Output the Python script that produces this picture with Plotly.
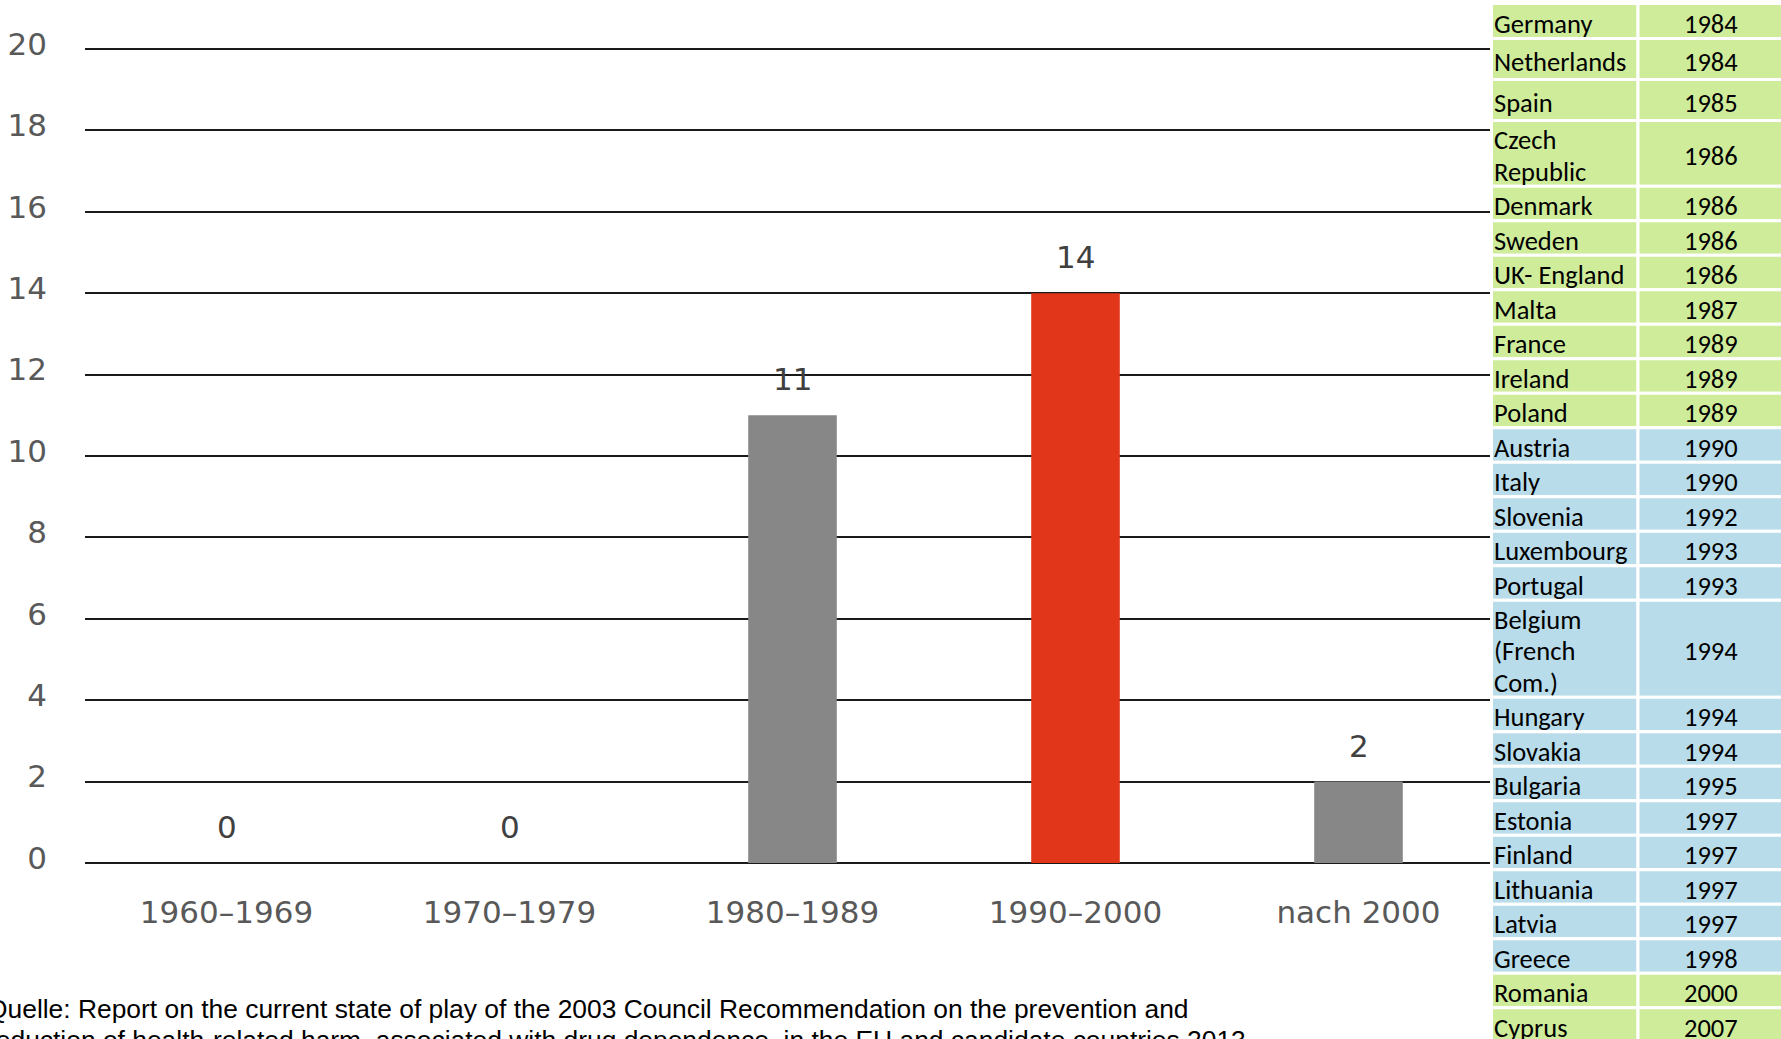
import plotly.graph_objects as go

# Number of countries per decade in which the first measures were introduced
periods = ["1960–1969", "1970–1979", "1980–1989", "1990–2000", "nach 2000"]
counts = [0, 0, 11, 14, 2]
highlight_period = "1990–2000"

# Country list with year of introduction
countries = [
    "Germany", "Netherlands", "Spain", "Czech<br>Republic", "Denmark", "Sweden",
    "UK- England", "Malta", "France", "Ireland", "Poland", "Austria", "Italy",
    "Slovenia", "Luxembourg", "Portugal", "Belgium<br>(French<br>Com.)", "Hungary",
    "Slovakia", "Bulgaria", "Estonia", "Finland", "Lithuania", "Latvia", "Greece",
    "Romania", "Cyprus",
]
years = [
    1984, 1984, 1985, 1986, 1986, 1986, 1986, 1987, 1989, 1989, 1989, 1990, 1990,
    1992, 1993, 1993, 1994, 1994, 1994, 1995, 1997, 1997, 1997, 1997, 1998,
    2000, 2007,
]
y_ticks = [0, 2, 4, 6, 8, 10, 12, 14, 16, 18, 20]

source_lines = [
    "Quelle: Report on the current state of play of the 2003 Council Recommendation on the prevention and",
    "reduction of health-related harm, associated with drug dependence, in the EU and candidate countries 2013",
]

# ---- styling ----
W, H = 1781, 1039
GREY_BAR = "#878787"
RED_BAR = "#E2361A"
GREEN_CELL = "#CFEC9B"
BLUE_CELL = "#B8DCEA"
AXIS_FONT = "DejaVu Sans, sans-serif"
TABLE_FONT = "Carlito, Lato, sans-serif"
TABLE_SIZE = 26.5

# vertical placement of the value axis (pixels from the top)
Y0_PX, Y20_PX, PLOT_TOP_PX = 863.0, 49.0, 45.0
px_per_unit = (Y0_PX - Y20_PX) / 20
y_top = 20 + (Y20_PX - PLOT_TOP_PX) / px_per_unit

bar_colors = [RED_BAR if p == highlight_period else GREY_BAR for p in periods]

fig = go.Figure()

fig.add_trace(go.Bar(
    x=periods, y=counts, width=0.313,
    marker=dict(color=bar_colors, line=dict(width=0)),
    hoverinfo="skip", showlegend=False,
))

# value labels above each bar
for p, v in zip(periods, counts):
    fig.add_annotation(
        x=p, y=v, xref="x", yref="y", text=str(v), showarrow=False,
        yanchor="middle", yshift=36,
        font=dict(family=AXIS_FONT, size=31, color="#404040"),
    )

# ---- side table drawn on its own pixel-scaled axes ----
ROW_H = 34.5
LINE_H = 31.25
row_extra = {0: 0.5, 1: 6.5, 2: 6.5}
row_lines = [c.split("<br>") for c in countries]
row_heights = [ROW_H + LINE_H * (len(ls) - 1) + row_extra.get(i, 0.0)
               for i, ls in enumerate(row_lines)]
row_centers = []
top = 3.5
for h in row_heights:
    row_centers.append(top + h / 2)
    top += h

cell_colors = [BLUE_CELL if 1990 <= y < 2000 else GREEN_CELL for y in years]

COL1 = (1.5, 148.0)
COL2 = (148.0, 294.0)
for x0, x1 in (COL1, COL2):
    fig.add_trace(go.Bar(
        orientation="h", y=row_centers, x=[x1 - x0] * len(countries),
        base=[x0] * len(countries), width=row_heights,
        marker=dict(color=cell_colors, line=dict(color="white", width=3)),
        xaxis="x2", yaxis="y2", hoverinfo="skip", showlegend=False,
    ))

TEXT_DROP = -2.5  # nudge cell text slightly below the geometric centre
for ls, y, yc in zip(row_lines, years, row_centers):
    n = len(ls)
    for k, part in enumerate(ls):
        fig.add_annotation(
            x=1.5, y=yc + (k - (n - 1) / 2) * LINE_H, xref="x2", yref="y2",
            text=part, showarrow=False, xanchor="left", yanchor="middle",
            yshift=TEXT_DROP,
            font=dict(family=TABLE_FONT, size=TABLE_SIZE, color="#000000"),
        )
    fig.add_annotation(
        x=220.5, y=yc, xref="x2", yref="y2", text=str(y), showarrow=False,
        xanchor="center", yanchor="middle", yshift=TEXT_DROP,
        font=dict(family=TABLE_FONT, size=TABLE_SIZE, color="#000000"),
    )

# source note at the bottom
for i, line in enumerate(source_lines):
    fig.add_annotation(
        x=-15 / W, y=1 - (1009 + 31 * i) / H, xref="paper", yref="paper",
        text=line, showarrow=False, xanchor="left", yanchor="middle",
        font=dict(family="Liberation Sans, Arial, sans-serif", size=26.4, color="#000000"),
    )

fig.update_layout(
    width=W, height=H,
    margin=dict(l=0, r=0, t=0, b=0, pad=0),
    autosize=False,
    paper_bgcolor="white", plot_bgcolor="white",
    barmode="overlay",
    showlegend=False,
    xaxis=dict(
        domain=[85 / W, 1500 / W], automargin=False,
        type="category", categoryorder="array", categoryarray=periods,
        showgrid=False, showline=False, zeroline=False, ticks="",
        tickfont=dict(family=AXIS_FONT, size=31, color="#595959"),
        ticklabelstandoff=28, fixedrange=True,
    ),
    yaxis=dict(
        domain=[1 - Y0_PX / H, 1 - PLOT_TOP_PX / H], automargin=False,
        range=[0, y_top], tickvals=y_ticks,
        showgrid=True, gridcolor="#1a1a1a", gridwidth=2,
        zeroline=True, zerolinecolor="#1a1a1a", zerolinewidth=2,
        showline=False, ticks="",
        tickfont=dict(family=AXIS_FONT, size=31, color="#595959"),
        ticklabelstandoff=37, ticklabelshift=-5, fixedrange=True,
    ),
    xaxis2=dict(domain=[1490 / W, 1], range=[0, 291], visible=False,
                anchor="y2", fixedrange=True, automargin=False),
    yaxis2=dict(domain=[0, 1], range=[H, 0], visible=False,
                anchor="x2", fixedrange=True, automargin=False),
)

fig.write_html("out.html")
